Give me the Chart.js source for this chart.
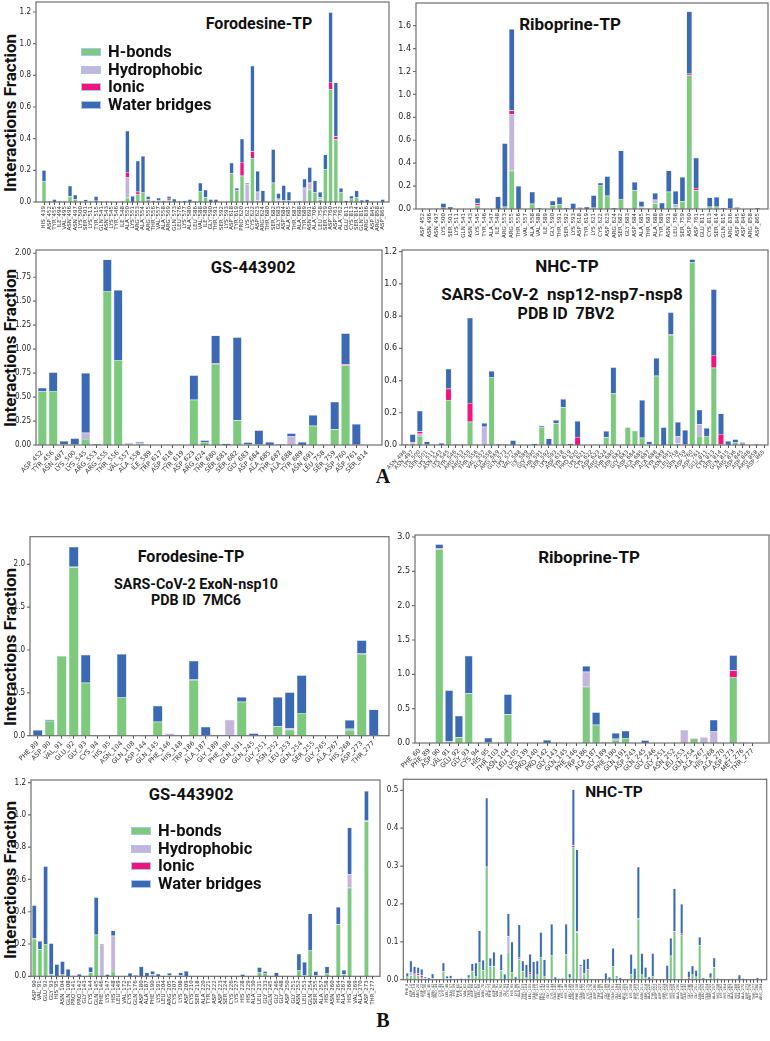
<!DOCTYPE html>
<html>
<head>
<meta charset="utf-8">
<script src="https://cdn.jsdelivr.net/npm/chart.js@4.4.1/dist/chart.umd.min.js"></script>
<style>
  body { margin:0; background:#fff; }
  #page { position:relative; width:770px; height:1041px; overflow:hidden; background:#fff; }
  #page canvas { position:absolute; }
  .tit { position:absolute; transform:translate(-50%,-50%); font-family:Roboto,'Open Sans',sans-serif; font-weight:700; white-space:nowrap; color:#111; line-height:1; }
  .ytit { position:absolute; transform:translate(-50%,-50%) rotate(-90deg); font-family:Roboto,'Open Sans',sans-serif; font-weight:700; font-size:17px; white-space:nowrap; color:#111; line-height:1; }
  .letra { position:absolute; transform:translate(-50%,-50%); font-family:'Liberation Serif',serif; font-weight:700; font-size:20px; color:#111; line-height:1; }
  .sw { position:absolute; width:20px; height:8px; box-sizing:border-box; border:1px solid #aac6e8; }
  .legtxt { position:absolute; transform:translateY(-50%); font-family:Roboto,'Open Sans',sans-serif; font-weight:700; font-size:16.5px; color:#111; white-space:nowrap; line-height:1; }
</style>
</head>
<body>
<div id="page">
  <div class="ytit" style="left:10px;top:113px">Interactions Fraction</div>
  <div class="ytit" style="left:10px;top:348px">Interactions Fraction</div>
  <div class="ytit" style="left:10px;top:647px">Interactions Fraction</div>
  <div class="ytit" style="left:10px;top:880px">Interactions Fraction</div>

  <div class="tit" style="left:259px;top:24px;font-size:16px">Forodesine-TP</div>
  <div class="tit" style="left:570px;top:24px;font-size:17px">Riboprine-TP</div>
  <div class="tit" style="left:253px;top:268px;font-size:16.5px">GS-443902</div>
  <div class="tit" style="left:567px;top:266px;font-size:17px">NHC-TP</div>
  <div class="tit" style="left:562px;top:294px;font-size:17px">SARS-CoV-2&nbsp; nsp12-nsp7-nsp8</div>
  <div class="tit" style="left:566px;top:314px;font-size:16px">PDB ID&nbsp; 7BV2</div>
  <div class="letra" style="left:383px;top:476px">A</div>

  <div class="tit" style="left:191px;top:557px;font-size:16px">Forodesine-TP</div>
  <div class="tit" style="left:196px;top:584px;font-size:14.3px">SARS-CoV-2 ExoN-nsp10</div>
  <div class="tit" style="left:196px;top:600px;font-size:14.3px">PDB ID&nbsp; 7MC6</div>
  <div class="tit" style="left:589px;top:557px;font-size:17px">Riboprine-TP</div>
  <div class="tit" style="left:191px;top:795px;font-size:16.5px">GS-443902</div>
  <div class="tit" style="left:614px;top:793px;font-size:15.5px">NHC-TP</div>
  <div class="letra" style="left:383px;top:1020px">B</div>
</div>
<script>
// ---- dados: Forodesine-TP / RdRp (A)
var foroA_res = ['HIS_439','ASP_452','TYR_455','ILE_494','VAL_495','ASN_496','ASN_497','LYS_500','SER_501','LYS_511',
  'TYR_515','GLN_541','ASN_543','LYS_545','TYR_546','ILE_548','ALA_550','LYS_551','ARG_553','ALA_554',
  'ARG_555','THR_556','VAL_557','ALA_558','ARG_569','GLN_573','LEU_576','LYS_577','ALA_580','LEU_586',
  'VAL_588','ILE_589','GLY_590','THR_591','SER_592','LYS_593','ASP_618','TYR_619','PRO_620','LYS_621',
  'CYS_622','ASP_623','ARG_624','THR_680','SER_682','GLY_683','ASP_684','ALA_685','THR_687','ALA_688',
  'TYR_689','ASN_691','ALA_706','LEU_758','SER_759','ASP_760','ASP_761','ALA_762','GLU_811','CYS_813',
  'SER_814','GLN_815','ARG_836','ASP_845','ARG_858','ASP_865'];
var foroA_hb = [0.13,0,0,0,0,0.036,0.017,0,0,0, 0,0,0,0,0,0,0.027,0,0.05,0.063,
  0.015,0,0.01,0,0.01,0,0,0,0,0, 0.07,0.03,0,0,0,0,0.18,0.072,0.165,0,
  0.278,0.01,0,0,0.122,0.01,0.01,0.01,0,0, 0,0.078,0.06,0.015,0.206,0.712,0.394,0.063,0,0.02,
  0.03,0,0,0,0,0];
var foroA_hy = [0,0,0,0.008,0,0,0,0,0,0, 0,0,0,0,0,0,0.131,0,0,0,
  0,0,0,0,0,0,0,0,0,0, 0,0,0,0,0,0,0,0,0,0.11,
  0,0.055,0,0,0,0.01,0,0,0,0, 0.09,0.042,0,0.015,0,0,0,0,0,0,
  0,0,0,0,0,0];
var foroA_io = [0,0,0,0,0,0,0,0,0.005,0, 0.008,0,0,0,0,0.004,0.032,0,0.015,0,
  0,0.008,0,0,0.01,0,0,0,0,0, 0,0,0,0,0,0,0,0,0.088,0,
  0.042,0,0,0,0,0,0,0,0,0, 0,0.005,0,0,0,0.046,0.019,0,0,0,
  0,0,0,0,0,0];
var foroA_wb = [0.07,0.005,0.017,0,0.003,0.067,0.029,0.003,0.01,0.003, 0.028,0.003,0.003,0,0,0.002,0.26,0.038,0.195,0.227,
  0.021,0.002,0.017,0.008,0.016,0.02,0.005,0.01,0.017,0.005, 0.052,0.048,0.017,0.017,0,0.003,0.068,0.016,0.147,0.01,
  0.54,0.131,0.072,0,0.211,0.035,0.095,0.055,0,0.005, 0.057,0.095,0.075,0.033,0.094,0.44,0.341,0.025,0.01,0.02,
  0.042,0.012,0.015,0.003,0,0.017];

// ---- Riboprine-TP (A)
var riboA_res = ['ASP_452','ASN_496','ASN_497','LYS_500','SER_501','LYS_511','GLN_541','ASN_543','LYS_545','TYR_546',
  'ALA_547','ILE_548','ARG_553','ARG_555','THR_556','VAL_557','ALA_558','VAL_588','ILE_589','GLY_590',
  'THR_591','SER_592','LYS_593','ASP_618','TYR_619','LYS_621','CYS_622','ASP_623','ARG_624','SER_682',
  'GLY_683','ASP_684','ALA_685','THR_687','ALA_688','TYR_689','ASN_691','LEU_758','SER_759','ASP_760',
  'ASP_761','GLU_811','CYS_813','SER_814','GLN_815','ARG_836','ASP_845','ASP_846','ARG_858','ASP_865'];
var riboA_hb = [0,0,0,0,0,0,0,0,0.03,0, 0,0,0.02,0.334,0,0,0.045,0,0,0.03,
  0.04,0,0,0,0,0.01,0.21,0.115,0,0.087, 0,0.163,0.01,0,0.05,0,0.15,0.015,0.067,1.165,
  0.163,0,0.02,0.02,0,0.005,0.01,0,0,0];
var riboA_hy = [0,0,0,0,0,0,0,0,0,0, 0,0,0,0.496,0,0,0,0,0,0,
  0,0,0,0,0,0,0,0,0,0, 0,0,0.01,0,0.03,0,0,0.025,0,0,
  0,0,0,0,0,0,0,0,0,0];
var riboA_io = [0,0,0,0.01,0,0,0,0,0.018,0, 0,0,0,0.03,0,0,0,0,0,0,
  0,0,0,0.008,0,0,0,0,0,0, 0,0,0,0,0,0,0,0,0,0.015,
  0.02,0,0,0,0,0,0,0,0,0];
var riboA_wb = [0.004,0.002,0.004,0.04,0.02,0,0,0,0.048,0.003, 0,0.11,0.553,0.71,0.2,0,0.105,0.01,0,0.043,
  0.065,0.01,0.05,0.008,0.02,0.11,0.02,0.17,0.01,0.423, 0.005,0.072,0.047,0.005,0.06,0.055,0.185,0.117,0.213,0.544,
  0.265,0,0.08,0.085,0.01,0.09,0.01,0,0,0.01];

// ---- GS-443902 (A)
var gsA_res = ['ASP_452','TYR_456','ASN_497','LYS_500','LYS_545','ARG_553','ARG_555','THR_556','VAL_557','ALA_558',
  'ILE_589','TRP_617','ASP_618','TYR_619','ASP_623','ARG_624','THR_680','SER_681','SER_682','GLY_683',
  'ASP_684','ALA_685','THR_687','ALA_688','TYR_689','ASN_691','LEU_758','SER_759','ASP_760','ASP_761','SER_814'];
var gsA_hb = [0.557,0.563,0.005,0,0.063,0,1.607,0.887,0,0.015, 0,0,0,0,0.473,0.031,0.845,0,0.257,0.005,
  0.01,0,0,0,0,0.2,0,0.163,0.828,0,0];
var gsA_hy = [0,0,0,0,0.066,0,0,0,0.022,0, 0,0,0,0,0,0,0,0,0,0, 0,0,0,0.094,0,0,0,0,0,0,0];
var gsA_io = [0,0,0,0.004,0,0,0,0,0,0, 0,0,0,0,0,0,0.005,0,0,0, 0,0,0,0,0,0,0,0,0.014,0.01,0];
var gsA_wb = [0.041,0.195,0.037,0.066,0.622,0.01,0.327,0.73,0,0.016, 0,0,0,0,0.254,0.018,0.291,0.015,0.866,0.023,
  0.143,0.03,0.008,0.028,0.03,0.113,0.005,0.289,0.323,0.209,0];

// ---- NHC-TP (A)
var nhcA_res = ['ASN_496','ASN_497','LYS_500','SER_501','LYS_511','ASN_543','LYS_545','TYR_546','ARG_553','ARG_555',
  'THR_556','VAL_557','ALA_558','ARG_569','GLN_573','LYS_577','VAL_588','ILE_589','GLY_590','THR_591',
  'SER_592','LYS_593','ASP_618','TYR_619','PRO_620','LYS_621','CYS_622','ASP_623','ARG_624','THR_680',
  'SER_682','GLY_683','ASP_684','ALA_685','THR_687','ALA_688','TYR_689','ASN_691','LEU_758','SER_759',
  'ASP_760','ASP_761','GLU_811','CYS_813','SER_814','GLN_815','ARG_836','ASP_845','ASP_846','ARG_858','ASP_865'];
var nhcA_hb = [0,0.01,0.056,0,0,0,0.279,0,0,0.145, 0,0,0.422,0,0,0,0,0,0,0.108,
  0,0.134,0.232,0,0,0,0,0,0.048,0.32, 0,0.11,0.089,0.045,0.005,0.43,0,0.682,0.01,0,
  1.133,0.056,0.056,0.48,0.005,0,0.019,0,0,0, 0];
var nhcA_hy = [0,0,0.014,0,0,0,0,0,0,0, 0,0.114,0,0,0,0,0,0,0,0,
  0,0,0,0,0,0,0,0,0,0, 0,0,0,0,0,0,0,0,0.045,0,
  0,0.072,0,0,0,0,0,0,0,0, 0];
var nhcA_io = [0,0.006,0.013,0.005,0,0,0.07,0,0.005,0.115, 0,0,0,0,0,0,0,0,0,0,
  0,0,0,0,0.05,0,0,0,0,0, 0,0,0,0,0,0,0,0.003,0,0.005,
  0,0,0,0.078,0.063,0,0,0.008,0,0, 0];
var nhcA_wb = [0.005,0.05,0.13,0.016,0.003,0.012,0.124,0.005,0,0.53, 0.003,0.022,0.037,0.008,0.005,0.029,0,0,0.01,0.012,
  0.041,0.021,0.053,0.01,0.099,0,0,0,0.039,0.162, 0,0,0,0.234,0.016,0.11,0.11,0.138,0.088,0.088,
  0.019,0.091,0.049,0.408,0.128,0.025,0.016,0.009,0,0.005, 0];

// ---- Forodesine-TP / ExoN-nsp10 (B)
var foroB_res = ['PHE_89','ASP_90','VAL_91','GLU_92','GLY_93','CYS_94','HIS_95','ASN_104','GLN_108','ASP_144',
  'GLN_145','PHE_146','HIS_148','TRP_186','ALA_187','GLY_189','PHE_190','GLN_191','GLN_245','GLY_251',
  'ASN_252','LEU_253','GLN_254','SER_255','GLY_265','ALA_267','HIS_268','ASP_273','THR_277'];
var foroB_hb = [0,0.175,0.93,1.965,0.619,0,0,0.451,0,0, 0.163,0,0,0.65,0,0,0,0.397,0,0,
  0.109,0.07,0.265,0,0,0,0.066,0.953,0];
var foroB_hy = [0,0,0,0,0,0,0,0,0,0, 0,0.027,0.006,0,0,0,0.187,0,0,0, 0,0.02,0,0,0,0,0.014,0,0];
var foroB_io = [0,0,0,0.005,0,0,0,0,0,0, 0,0,0,0.005,0,0,0,0,0,0, 0,0,0,0,0,0,0,0.005,0];
var foroB_wb = [0.066,0.015,0,0.236,0.327,0,0.01,0.502,0,0.005, 0.187,0,0.006,0.22,0.105,0.01,0,0.054,0.03,0.01,
  0.342,0.416,0.439,0,0,0,0.103,0.155,0.307];

// ---- Riboprine-TP (B)
var riboB_res = ['PHE_60','PHE_89','ASP_90','VAL_91','GLU_92','GLY_93','CYS_94','HIS_95','THR_103','ASN_104',
  'LEU_105','LYS_139','PRO_140','PRO_142','GLY_143','GLN_145','PHE_146','TRP_186','ALA_187','GLY_189',
  'PHE_190','GLN_191','ASP_243','GLN_245','GLY_246','GLY_251','ASN_252','LEU_253','GLN_254','ALA_267',
  'HIS_268','ALA_270','ASP_273','MET_276','THR_277'];
var riboB_hb = [0,0,2.82,0.024,0.083,0.723,0,0.015,0,0.417, 0,0,0,0,0,0,0,0.82,0.267,0,
  0.044,0.073,0,0,0,0,0,0,0.068,0, 0,0,0.961,0,0];
var riboB_hy = [0,0,0,0,0,0,0.005,0,0,0, 0,0.005,0,0,0,0,0,0.219,0,0,
  0.019,0,0,0,0,0,0,0.189,0,0.083, 0.175,0,0,0.01,0];
var riboB_io = [0,0,0.015,0,0,0,0.005,0,0,0.005, 0,0,0,0,0,0,0,0,0,0,
  0,0,0,0,0,0,0,0,0,0, 0,0,0.097,0,0];
var riboB_wb = [0,0,0.058,0.743,0.315,0.549,0,0.063,0.007,0.287, 0,0,0,0.044,0.007,0.003,0,0.082,0.18,0.01,
  0.083,0.107,0,0.039,0,0,0.005,0,0,0, 0.165,0,0.219,0,0];

// ---- GS-443902 (B)
var gsB_res = ['ASP_90','VAL_91','GLU_92','GLY_93','HIS_95','ASN_104','GLN_108','PRO_141','PRO_142','GLY_143',
  'CYS_144','GLN_145','PHE_146','LYS_147','HIS_148','LEU_149','VAL_172','CYS_175','GLN_176','ASP_180',
  'ALA_187','PHE_190','LYS_191','LEU_204','ARG_205','CYS_207','LYS_208','ASP_209','CYS_210','SER_218',
  'ALA_220','TYR_221','ASP_222','ASP_223','SER_224','CYS_226','LYS_227','HIS_228','HIS_229','ALA_230',
  'LEU_231','GLY_233','GLN_245','GLY_246','GLY_248','ASP_250','GLY_251','ASN_252','LEU_253','GLN_254',
  'SER_255','ALA_257','HIS_258','ASN_260','HIS_264','ALA_267','HIS_268','VAL_269','ALA_270','ASP_273','THR_277'];
var gsB_hb = [0.232,0.167,0.2,0.01,0,0.01,0,0,0,0, 0.025,0.257,0,0,0.033,0,0,0,0.01,0,
  0,0,0,0,0.005,0,0.005,0,0,0, 0,0,0,0,0,0,0,0,0,0,
  0.023,0.02,0,0,0,0,0,0.039,0.006,0.163, 0,0,0.02,0,0.323,0.013,0.549,0,0,0.961, 0];
var gsB_hy = [0,0,0,0,0,0,0,0,0,0, 0,0,0.196,0,0.218,0,0,0,0,0,
  0,0.012,0,0,0,0,0,0,0,0, 0,0,0,0,0,0,0,0,0,0,
  0,0,0,0,0,0,0,0,0,0, 0,0,0,0,0,0,0.081,0,0,0, 0];
var gsB_io = [0.003,0,0,0.003,0,0.005,0,0,0,0, 0,0,0.004,0,0,0,0,0,0,0,
  0,0,0,0,0,0,0,0,0,0, 0,0,0,0,0,0,0,0,0,0,
  0,0,0,0,0,0,0,0,0,0, 0.006,0,0,0,0,0,0.004,0,0,0.004, 0];
var gsB_wb = [0.205,0.051,0.481,0.191,0.074,0.078,0.045,0.005,0.014,0, 0.033,0.233,0,0.012,0.033,0,0.004,0.02,0,0.06,
  0.023,0.021,0.016,0,0.015,0,0.018,0.033,0.003,0.002, 0,0,0,0,0,0,0.002,0.012,0,0,
  0.033,0.011,0,0.023,0.004,0,0,0.101,0.082,0.226, 0.025,0,0.04,0,0.107,0.026,0.288,0.003,0,0.183, 0.003];

// ---- NHC-TP (B)
var nhcB_res = ['PHE_8','ASP_10','LEU_14','ARG_20','ASP_22','TYR_30','ARG_40','ASN_42','PRO_44','CYS_45',
  'LYS_47','LEU_48','GLN_57','HIS_59','PHE_60','LYS_61','VAL_62','THR_65','ASP_66','MET_67',
  'LEU_68','ASN_70','GLY_71','PHE_73','ASP_90','VAL_91','GLU_92','GLY_93','CYS_94','HIS_95',
  'LYS_96','ALA_97','THR_103','ASN_104','LEU_105','GLN_108','TYR_115','PRO_141','PRO_142','GLY_143',
  'CYS_144','GLN_145','PHE_146','LYS_147','HIS_148','LEU_149','ASN_150','PHE_158','GLN_160','ASP_172',
  'CYS_175','GLN_176','ASP_180','TRP_186','ALA_187','GLY_189','PHE_190','GLN_191','GLU_194','LEU_204',
  'ARG_205','CYS_207','LYS_208','ASP_209','CYS_210','ASN_211','SER_218','ALA_220','TYR_221','ASP_222',
  'ASP_223','SER_224','CYS_226','HIS_228','HIS_229','ALA_230','ASP_243','GLN_245','GLY_246','GLY_248',
  'GLY_251','ASN_252','LEU_253','GLN_254','SER_255','ALA_257','HIS_258','LYS_262','HIS_264','GLY_265',
  'ALA_267','HIS_268','VAL_269','ALA_270','ASP_273','MET_276','THR_277','ILE_280','ARG_284'];
var nhcB_hb = [0.008,0.012,0.013,0.012,0.005,0.003,0,0.003,0,0, 0.022,0.003,0.003,0,0,0,0,0.005,0.022,0.01,
  0.047,0.025,0.298,0.035,0.035,0,0.025,0,0.073,0.02, 0,0.053,0.022,0.005,0.015,0.002,0.013,0.06,0.01,0,
  0.065,0,0,0,0.065,0.005,0.35,0.125,0,0.015, 0.027,0,0,0,0,0,0,0.035,0.005,0,
  0,0,0.015,0,0.16,0.013,0.005,0,0.01,0, 0,0,0.002,0.063,0.128,0,0.118,0,0,0.013,
  0.008,0.09,0,0,0.005,0.033,0,0,0,0, 0,0,0,0,0,0,0,0,0];
var nhcB_hy = [0,0.008,0,0,0,0,0,0,0,0, 0,0,0,0,0,0,0,0,0,0,
  0,0,0,0,0,0,0,0,0.042,0, 0,0,0,0,0,0,0,0,0,0,
  0,0,0,0.006,0.003,0,0,0,0.035,0, 0,0,0,0,0,0,0,0,0,0,
  0,0,0,0,0,0,0,0,0,0, 0,0,0,0,0,0,0,0,0,0,
  0,0,0,0,0,0,0,0,0,0, 0,0,0,0,0,0,0,0,0];
var nhcB_io = [0,0,0.005,0.005,0.006,0,0,0,0,0, 0,0,0,0,0,0,0,0,0,0,
  0,0,0,0,0,0,0,0,0,0, 0,0.005,0,0,0.005,0,0,0,0,0,
  0,0,0,0,0,0,0.004,0.003,0,0.002, 0,0,0,0,0,0,0,0,0,0,
  0,0,0,0,0.002,0,0,0,0,0, 0,0,0,0,0,0,0.003,0,0.005,0,
  0,0,0,0,0,0,0,0,0,0, 0,0,0,0,0,0,0,0,0];
var nhcB_wb = [0.01,0.03,0.017,0.016,0.017,0.005,0.005,0.013,0.002,0.002, 0.023,0.007,0.008,0.003,0.003,0.004,0.003,0.008,0.021,0.035,
  0.083,0.027,0.182,0.022,0.038,0,0.042,0.015,0.06,0.08, 0.008,0.088,0.028,0.035,0.048,0.046,0.037,0.065,0.043,0,
  0.082,0.008,0.004,0,0.079,0.011,0.148,0.216,0.005,0.037, 0.029,0.002,0,0,0,0.018,0.007,0.049,0.005,0.006,
  0,0.002,0.052,0.03,0.136,0.057,0.028,0.008,0.06,0, 0,0,0.036,0.047,0.113,0,0.079,0,0.017,0.024,
  0.017,0.023,0.005,0.002,0.013,0.025,0.004,0.001,0,0.002, 0.003,0,0.013,0.004,0,0.001,0.002,0.006,0.003];

var tipos = ['H-bonds','Hydrophobic','Ionic','Water bridges'];
var cores = ['#7dca7d','#c3b5dc','#f0147c','#3b69b4'];

var fonteEstreita = "'Liberation Sans Narrow','DejaVu Sans Condensed',sans-serif";
var fonteNormal = "'DejaVu Sans',sans-serif";

// moldura cinza em volta do painel + pequenos ticks do eixo y
var molduraPlugin = {
  id: 'moldura',
  afterDraw: function(chart, args, opts) {
    var ctx = chart.ctx, a = chart.chartArea, sy = chart.scales.y;
    var x0 = a.left - opts.l, x1 = a.right + opts.r;
    ctx.save();
    ctx.strokeStyle = '#6e6e6e';
    ctx.lineWidth = 1.2;
    ctx.strokeRect(x0, a.top, x1 - x0, a.bottom - a.top);
    ctx.beginPath();
    sy.ticks.forEach(function(t) {
      var py = sy.getPixelForValue(t.value);
      ctx.moveTo(x0, py);
      ctx.lineTo(x0 - 3, py);
    });
    ctx.stroke();
    ctx.restore();
  }
};

function montaPainel(p) {
  var ct = Math.max(0, Math.floor(p.area.t) - 3);
  var cw = Math.ceil(Math.max(p.frame.r, p.area.r) + 2 - p.cl);
  var ch = Math.ceil(p.area.b + p.xH - ct);
  var yW = p.area.l - p.cl;
  var xH = ct + ch - p.area.b;

  var cv = document.createElement('canvas');
  cv.width = cw; cv.height = ch;
  cv.style.left = p.cl + 'px'; cv.style.top = ct + 'px';
  cv.style.width = cw + 'px'; cv.style.height = ch + 'px';
  document.getElementById('page').appendChild(cv);

  var series = [p.hb, p.hy, p.io, p.wb];
  var datasets = series.map(function(d, k) {
    return { label: tipos[k], data: d, backgroundColor: cores[k],
             borderColor: 'rgba(185,207,235,0.9)', borderWidth: 0.5,
             barPercentage: 0.82, categoryPercentage: 1 };
  });

  new Chart(cv.getContext('2d'), {
    type: 'bar',
    data: { labels: p.res, datasets: datasets },
    plugins: [molduraPlugin],
    options: {
      responsive: false,
      animation: false,
      layout: { autoPadding: false, padding: { top: p.area.t - ct, right: p.cl + cw - p.area.r, left: 0, bottom: 0 } },
      plugins: {
        legend: { display: false },
        tooltip: { enabled: false },
        moldura: { l: p.area.l - p.frame.l, r: p.frame.r - p.area.r }
      },
      scales: {
        x: {
          stacked: true,
          offset: true,
          border: { display: false },
          grid: { display: true, drawOnChartArea: false, drawTicks: true, tickLength: 3, offset: false, color: '#555' },
          ticks: { autoSkip: false, maxRotation: p.rot, minRotation: p.rot, padding: 1,
                   font: { family: fonteNormal, size: p.xFont }, color: '#333' },
          afterFit: function(s) { s.height = xH; s.paddingLeft = 0; s.paddingRight = 0; }
        },
        y: {
          stacked: true,
          min: 0,
          max: p.yMax,
          border: { display: false },
          grid: { display: false, drawTicks: false },
          ticks: { stepSize: p.step, includeBounds: false, padding: (p.area.l - p.frame.l) + 5,
                   font: { family: p.yFam, size: p.yFs }, color: '#222',
                   callback: function(v) { return Number(v).toFixed(p.dec); } },
          afterFit: function(s) { s.width = yW; s.paddingTop = 0; s.paddingBottom = 0; }
        }
      }
    }
  });
}

function legenda(x, yc, passo) {
  var page = document.getElementById('page');
  tipos.forEach(function(nome, k) {
    var sw = document.createElement('div');
    sw.className = 'sw';
    sw.style.left = x + 'px';
    sw.style.top = (yc + k * passo - 4) + 'px';
    sw.style.background = cores[k];
    page.appendChild(sw);
    var tx = document.createElement('div');
    tx.className = 'legtxt';
    tx.style.left = (x + 27) + 'px';
    tx.style.top = (yc + k * passo) + 'px';
    tx.textContent = nome;
    page.appendChild(tx);
  });
}

montaPainel({ res: foroA_res, hb: foroA_hb, hy: foroA_hy, io: foroA_io, wb: foroA_wb,
  cl: 0, area: { l: 41.4, t: 2, r: 385.3, b: 202 }, frame: { l: 36, r: 389 },
  yMax: 1.263, step: 0.2, dec: 1, rot: 90, xFont: 5.5, xH: 46, yFam: fonteEstreita, yFs: 8 });
montaPainel({ res: riboA_res, hb: riboA_hb, hy: riboA_hy, io: riboA_io, wb: riboA_wb,
  cl: 392, area: { l: 419.5, t: 3, r: 761, b: 209 }, frame: { l: 416, r: 768 },
  yMax: 1.798, step: 0.2, dec: 1, rot: 90, xFont: 5.5, xH: 39, yFam: fonteNormal, yFs: 8 });
montaPainel({ res: gsA_res, hb: gsA_hb, hy: gsA_hy, io: gsA_io, wb: gsA_wb,
  cl: 0, area: { l: 36.9, t: 250, r: 372.6, b: 445 }, frame: { l: 36, r: 382 },
  yMax: 2.034, step: 0.25, dec: 2, rot: 45, xFont: 6.5, xH: 40, yFam: fonteEstreita, yFs: 8 });
montaPainel({ res: nhcA_res, hb: nhcA_hb, hy: nhcA_hy, io: nhcA_io, wb: nhcA_wb,
  cl: 380, area: { l: 401.9, t: 250, r: 767.6, b: 445 }, frame: { l: 402, r: 768 },
  yMax: 1.21, step: 0.2, dec: 1, rot: 45, xFont: 5.5, xH: 40, yFam: fonteNormal, yFs: 8 });
montaPainel({ res: foroB_res, hb: foroB_hb, hy: foroB_hy, io: foroB_io, wb: foroB_wb,
  cl: 0, area: { l: 31.7, t: 536.7, r: 379.7, b: 735.7 }, frame: { l: 30, r: 389 },
  yMax: 2.322, step: 0.5, dec: 1, rot: 45, xFont: 6.5, xH: 40, yFam: fonteEstreita, yFs: 8 });
montaPainel({ res: riboB_res, hb: riboB_hb, hy: riboB_hy, io: riboB_io, wb: riboB_wb,
  cl: 392, area: { l: 414.8, t: 535, r: 757.8, b: 743 }, frame: { l: 415, r: 769 },
  yMax: 3.029, step: 0.5, dec: 1, rot: 45, xFont: 6.5, xH: 36, yFam: fonteNormal, yFs: 8 });
montaPainel({ res: gsB_res, hb: gsB_hb, hy: gsB_hy, io: gsB_io, wb: gsB_wb,
  cl: 0, area: { l: 31.5, t: 780, r: 374.9, b: 976.3 }, frame: { l: 31, r: 380 },
  yMax: 1.216, step: 0.2, dec: 1, rot: 90, xFont: 5.5, xH: 40, yFam: fonteEstreita, yFs: 8 });
montaPainel({ res: nhcB_res, hb: nhcB_hb, hy: nhcB_hy, io: nhcB_io, wb: nhcB_wb,
  cl: 380, area: { l: 405.5, t: 779.3, r: 762.9, b: 979.7 }, frame: { l: 403.3, r: 766.7 },
  yMax: 0.529, step: 0.1, dec: 1, rot: 90, xFont: 3.6, xH: 26, yFam: fonteEstreita, yFs: 8 });

legenda(81, 52, 17.7);
legenda(131, 831, 17.7);
</script>
</body>
</html>
